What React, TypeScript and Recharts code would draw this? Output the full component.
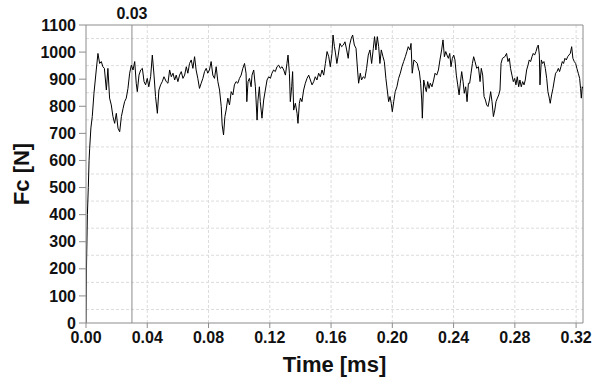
import { LineChart, Line, XAxis, YAxis, CartesianGrid, ReferenceLine } from 'recharts'

const FONT = '"Liberation Sans", Arial, sans-serif'

// time [ms] and cutting force [N]
const timeMs = [
  0, 0.0003, 0.0009, 0.0015, 0.002, 0.0024, 0.0032, 0.0041, 0.0052, 0.0067, 0.0078, 0.0089, 0.01, 0.011, 0.012,
  0.0133, 0.0143, 0.0154, 0.0165, 0.0176, 0.0187, 0.0198, 0.0209, 0.022, 0.0231, 0.0242, 0.0252, 0.0263, 0.0274,
  0.0285, 0.0296, 0.0307, 0.0318, 0.0328, 0.0335, 0.0346, 0.0357, 0.0368, 0.0379, 0.0389, 0.04, 0.041, 0.0422,
  0.0433, 0.0444, 0.0454, 0.0466, 0.0476, 0.0487, 0.0498, 0.0509, 0.0524, 0.0535, 0.0546, 0.0557, 0.0568, 0.0579,
  0.0589, 0.06, 0.0611, 0.0622, 0.0633, 0.0644, 0.0655, 0.0665, 0.0676, 0.0687, 0.0698, 0.0709, 0.0719, 0.073,
  0.0741, 0.0752, 0.0763, 0.0774, 0.0785, 0.0795, 0.0806, 0.0817, 0.0828, 0.0839, 0.085, 0.0861, 0.0872, 0.0883,
  0.0889, 0.0898, 0.0907, 0.0915, 0.0926, 0.0937, 0.0948, 0.0959, 0.0969, 0.098, 0.0991, 0.1002, 0.1013, 0.1024,
  0.1035, 0.1045, 0.105, 0.1058, 0.1067, 0.1078, 0.1084, 0.1095, 0.1106, 0.1117, 0.1123, 0.1132, 0.1138, 0.1149,
  0.116, 0.1171, 0.1182, 0.1193, 0.1204, 0.1214, 0.1225, 0.1236, 0.1247, 0.1258, 0.1269, 0.128, 0.1291, 0.1302,
  0.1312, 0.1319, 0.1328, 0.1334, 0.1343, 0.1349, 0.1356, 0.1367, 0.1378, 0.1384, 0.1393, 0.14, 0.141, 0.1421,
  0.1432, 0.1443, 0.1454, 0.1465, 0.1476, 0.1487, 0.1497, 0.1508, 0.1519, 0.153, 0.1541, 0.1552, 0.1563, 0.1574,
  0.1585, 0.1595, 0.1606, 0.1613, 0.1622, 0.1628, 0.1638, 0.1647, 0.1658, 0.1669, 0.168, 0.1691, 0.1702, 0.1712,
  0.1721, 0.1732, 0.1741, 0.1752, 0.1763, 0.1773, 0.178, 0.1791, 0.1799, 0.181, 0.1821, 0.1832, 0.1843, 0.1854,
  0.1865, 0.1876, 0.1884, 0.1893, 0.1902, 0.1911, 0.1919, 0.1928, 0.1939, 0.1948, 0.1958, 0.1967, 0.1976, 0.1985,
  0.1993, 0.2, 0.2009, 0.2019, 0.203, 0.2041, 0.2052, 0.2063, 0.2074, 0.2085, 0.2095, 0.2104, 0.2115, 0.2122,
  0.213, 0.2141, 0.2152, 0.2163, 0.2172, 0.2176, 0.2185, 0.2192, 0.2196, 0.2205, 0.2214, 0.2222, 0.2231, 0.224,
  0.2248, 0.2259, 0.227, 0.2279, 0.229, 0.2301, 0.2311, 0.2322, 0.2331, 0.234, 0.2349, 0.2357, 0.2366, 0.2375,
  0.2383, 0.2392, 0.2401, 0.2409, 0.2418, 0.2427, 0.2436, 0.2444, 0.2453, 0.2462, 0.247, 0.2479, 0.2488, 0.2497,
  0.2505, 0.2514, 0.2523, 0.2531, 0.254, 0.2551, 0.2562, 0.2573, 0.2581, 0.259, 0.2599, 0.2608, 0.2616, 0.2625,
  0.2634, 0.2642, 0.2651, 0.266, 0.2669, 0.2677, 0.2686, 0.2695, 0.2703, 0.271, 0.2719, 0.2735, 0.2746, 0.2755,
  0.2764, 0.2772, 0.2781, 0.279, 0.2799, 0.2807, 0.2816, 0.2825, 0.2833, 0.2842, 0.2851, 0.286, 0.2868, 0.2877,
  0.2886, 0.2894, 0.2903, 0.2912, 0.292, 0.2929, 0.2938, 0.2947, 0.2953, 0.296, 0.2964, 0.2973, 0.2981, 0.299,
  0.2999, 0.3008, 0.3016, 0.3025, 0.3031, 0.304, 0.3049, 0.3058, 0.3066, 0.3075, 0.3084, 0.3092, 0.3101, 0.311,
  0.3118, 0.3127, 0.3136, 0.3145, 0.3153, 0.3162, 0.3171, 0.3179, 0.3188, 0.3197, 0.3205, 0.3214, 0.3223, 0.3229,
  0.3234, 0.324, 0.3245,
]

const forceN = [
  0, 200, 400, 500, 600, 645, 720, 762, 848, 934, 995, 958, 965, 946, 940,
  860, 940, 830, 805, 762, 737, 774, 719, 706, 762, 792, 817, 830, 866,
  922, 952, 934, 965, 885, 854, 915, 934, 940, 891, 879, 903, 872, 909,
  989, 915, 836, 774, 860, 879, 891, 909, 891, 885, 934, 909, 922, 897,
  915, 891, 915, 928, 903, 915, 946, 922, 958, 971, 940, 983, 934, 903,
  866, 885, 903, 928, 940, 922, 934, 965, 915, 903, 946, 891, 860, 799,
  731, 694, 762, 786, 830, 805, 854, 842, 879, 891, 885, 903, 915, 940,
  958, 922, 817, 891, 903, 872, 915, 934, 872, 749, 823, 872, 817, 756,
  823, 860, 897, 909, 903, 922, 934, 928, 946, 952, 940, 946, 934, 915,
  958, 989, 922, 817, 872, 928, 786, 811, 774, 737, 811, 830, 817, 860,
  885, 903, 915, 897, 879, 891, 909, 897, 922, 909, 934, 915, 958, 1002,
  983, 946, 995, 1063, 1020, 1000, 958, 989, 1032, 1020, 1026, 1038, 1008, 977,
  1026, 1051, 1063, 1026, 1014, 934, 885, 922, 897, 909, 903, 940, 989, 1008,
  958, 1014, 1057, 1008, 1057, 1020, 958, 1008, 983, 965, 903, 860, 817, 836,
  811, 780, 817, 854, 872, 903, 922, 946, 965, 983, 1002, 1020, 1008, 1032,
  922, 971, 965, 958, 934, 930, 885, 823, 756, 897, 872, 854, 891, 866,
  885, 872, 897, 922, 915, 934, 971, 1008, 1045, 983, 1002, 989, 977, 995,
  946, 977, 989, 971, 915, 879, 842, 885, 928, 891, 848, 872, 817, 885,
  885, 922, 958, 983, 965, 940, 946, 891, 940, 915, 836, 823, 805, 799,
  823, 854, 817, 762, 786, 817, 830, 842, 860, 958, 977, 983, 995, 965,
  977, 940, 915, 891, 903, 879, 909, 872, 897, 872, 891, 879, 897, 934,
  952, 971, 965, 983, 995, 989, 1002, 1020, 1026, 989, 879, 971, 958, 965,
  940, 903, 854, 830, 811, 842, 866, 897, 922, 928, 940, 928, 946, 965,
  958, 977, 971, 983, 989, 995, 1020, 977, 965, 958, 940, 922, 903, 866,
  830, 872, 866,
]

const xTicks = [0, 0.04, 0.08, 0.12, 0.16, 0.2, 0.24, 0.28, 0.32]
const yTicks = [0, 100, 200, 300, 400, 500, 600, 700, 800, 900, 1000, 1100]
const xGrid = [0.02, 0.04, 0.06, 0.08, 0.1, 0.12, 0.14, 0.16, 0.18, 0.2, 0.22, 0.24, 0.26, 0.28, 0.3, 0.32]
const yGrid = [50, 100, 150, 200, 250, 300, 350, 400, 450, 500, 550, 600, 650, 700, 750, 800, 850, 900, 950, 1000, 1050]
const markerTime = 0.03
const xMax = 0.3245

const data = timeMs.map((t, i) => ({ t, fc: forceN[i] }))

const tickStyle = { fontSize: 16, fontWeight: 700, fill: '#111', fontFamily: FONT }

export default function App() {
  return (
    <div style={{ position: 'absolute', left: 0, top: 0, background: '#fff' }}>
      <LineChart width={597} height={378} data={data} margin={{ top: 25, right: 14, bottom: 0, left: 0 }}>
        <CartesianGrid
          stroke="#dcdcdc"
          strokeDasharray="3 2"
          horizontalValues={yGrid}
          verticalValues={xGrid}
        />
        <XAxis
          type="number"
          dataKey="t"
          domain={[0, xMax]}
          ticks={xTicks}
          allowDataOverflow
          tickFormatter={(v: number) => v.toFixed(2)}
          tick={tickStyle}
          tickSize={5}
          tickMargin={4}
          stroke="#8c8c8c"
          height={55}
          label={{ value: 'Time [ms]', position: 'insideBottom', offset: 6, style: { fontSize: 22, fontWeight: 700, fill: '#111', fontFamily: FONT, textAnchor: 'middle' } }}
        />
        <YAxis
          type="number"
          domain={[0, 1100]}
          ticks={yTicks}
          tick={tickStyle}
          tickSize={7}
          tickMargin={3}
          stroke="#8c8c8c"
          width={86}
          label={{ value: 'Fc [N]', angle: -90, position: 'insideLeft', offset: 21, style: { fontSize: 22, fontWeight: 700, fill: '#111', fontFamily: FONT, textAnchor: 'middle' } }}
        />
        <ReferenceLine y={1100} stroke="#8c8c8c" />
        <ReferenceLine x={xMax} stroke="#8c8c8c" />
        <ReferenceLine
          x={markerTime}
          stroke="#8c8c8c"
          label={{ value: '0.03', position: 'top', offset: 6, style: { fontSize: 16, fontWeight: 700, fill: '#111', fontFamily: FONT } }}
        />
        <Line type="linear" dataKey="fc" stroke="#000" strokeWidth={1} dot={false} isAnimationActive={false} />
      </LineChart>
    </div>
  )
}
